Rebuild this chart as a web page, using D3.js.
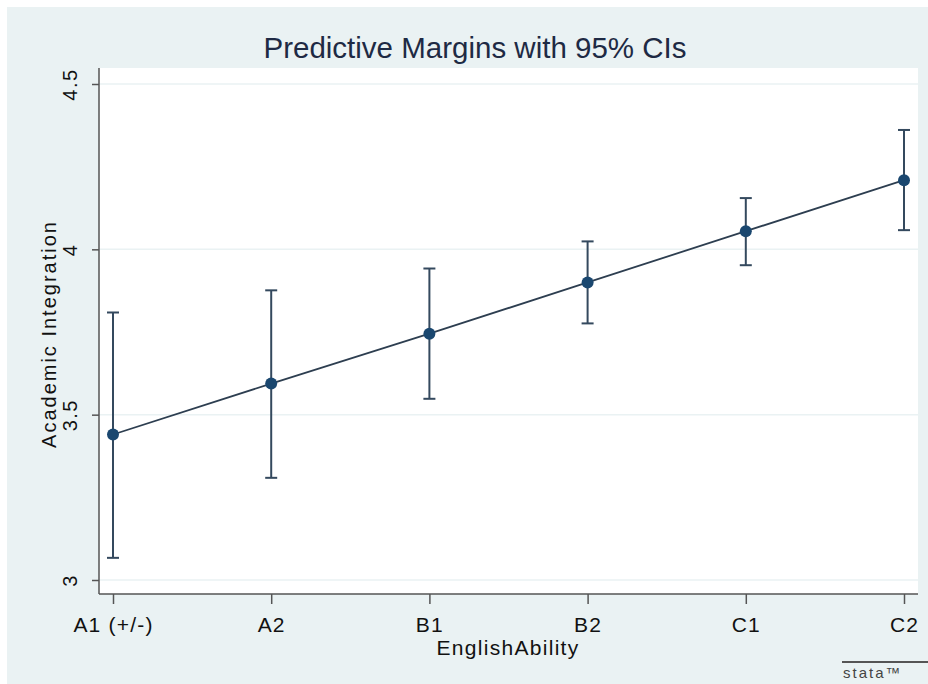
<!DOCTYPE html>
<html>
<head>
<meta charset="utf-8">
<script src="https://cdn.jsdelivr.net/npm/d3@7"></script>
<style>
  body { margin: 0; background: #fff; }
  text { font-family: "Liberation Sans", Arial, sans-serif; }
</style>
</head>
<body>
<svg id="chart" width="928" height="684"></svg>
<script>
// Data
const levels = ["A1 (+/-)", "A2", "B1", "B2", "C1", "C2"];
const margins = [3.44, 3.594, 3.745, 3.90, 4.055, 4.209];
const ciLow = [3.067, 3.309, 3.548, 3.776, 3.952, 4.058];
const ciHigh = [3.809, 3.876, 3.942, 4.024, 4.155, 4.361];
const yTicks = [3, 3.5, 4, 4.5];

const svg = d3.select("#chart");
const width = +svg.attr("width");
const height = +svg.attr("height");

// graph region (light blue-gray) and plot region (white)
svg.append("rect")
  .attr("x", 7).attr("y", 7)
  .attr("width", width - 7).attr("height", height - 7)
  .attr("fill", "#eaf2f3");

const plot = { left: 99, right: 918, top: 68, bottom: 594 };

svg.append("rect")
  .attr("x", plot.left).attr("y", plot.top)
  .attr("width", plot.right - plot.left).attr("height", plot.bottom - plot.top)
  .attr("fill", "#ffffff");

const x = d3.scalePoint().domain(levels).range([113, 904]);
const y = d3.scaleLinear().domain([3, 4.5]).range([580, 84]);

// horizontal grid lines
svg.append("g")
  .selectAll("line")
  .data(yTicks)
  .enter()
  .append("line")
  .attr("x1", plot.left).attr("x2", plot.right)
  .attr("y1", (d) => y(d)).attr("y2", (d) => y(d))
  .attr("stroke", "#eaf2f3")
  .attr("stroke-width", 1.5);

// y axis
const yAxis = svg.append("g")
  .attr("transform", `translate(${plot.left},0)`)
  .call(d3.axisLeft(y).tickValues(yTicks).tickSize(7).tickFormat(d3.format("")));
yAxis.select(".domain").attr("d", `M0,${plot.top}V${plot.bottom}`).attr("stroke", "#555").attr("stroke-width", 1.5);
yAxis.selectAll(".tick line").attr("stroke", "#555").attr("stroke-width", 1.5);
yAxis.selectAll(".tick text")
  .attr("x", null).attr("dy", null)
  .attr("transform", "translate(-22,0) rotate(-90)")
  .attr("text-anchor", "middle")
  .attr("fill", "#111")
  .style("font-size", "20px")
  .style("letter-spacing", "1.5px");

// x axis
const xAxis = svg.append("g")
  .attr("transform", `translate(0,${plot.bottom})`)
  .call(d3.axisBottom(x).tickSize(10));
xAxis.select(".domain").attr("d", `M${plot.left},0H${plot.right}`).attr("stroke", "#555").attr("stroke-width", 1.5);
xAxis.selectAll(".tick line").attr("stroke", "#555").attr("stroke-width", 1.5);
xAxis.selectAll(".tick text")
  .attr("y", 38).attr("dy", null)
  .attr("fill", "#111")
  .style("font-size", "21px")
  .style("letter-spacing", "1.2px");

// axis titles
svg.append("text")
  .attr("transform", `translate(56,${y(3.75) + 2}) rotate(-90)`)
  .attr("text-anchor", "middle")
  .attr("fill", "#111")
  .style("font-size", "20px")
  .style("letter-spacing", "2px")
  .text("Academic Integration");

svg.append("text")
  .attr("x", 508).attr("y", 655)
  .attr("text-anchor", "middle")
  .attr("fill", "#111")
  .style("font-size", "21px")
  .style("letter-spacing", "1.3px")
  .text("EnglishAbility");

// title
svg.append("text")
  .attr("x", 475).attr("y", 58)
  .attr("text-anchor", "middle")
  .attr("fill", "#1e2a44")
  .style("font-size", "29.5px")
  .text("Predictive Margins with 95% CIs");

const rows = levels.map((k, i) => ({ k, m: margins[i], lo: ciLow[i], hi: ciHigh[i] }));

// confidence intervals
const ci = svg.append("g").attr("stroke", "#34495e").attr("stroke-width", 2);
ci.selectAll(".bar").data(rows).enter().append("line")
  .attr("x1", (d) => x(d.k)).attr("x2", (d) => x(d.k))
  .attr("y1", (d) => y(d.lo)).attr("y2", (d) => y(d.hi));
ci.selectAll(".capHi").data(rows).enter().append("line")
  .attr("x1", (d) => x(d.k) - 6).attr("x2", (d) => x(d.k) + 6)
  .attr("y1", (d) => y(d.hi)).attr("y2", (d) => y(d.hi));
ci.selectAll(".capLo").data(rows).enter().append("line")
  .attr("x1", (d) => x(d.k) - 6).attr("x2", (d) => x(d.k) + 6)
  .attr("y1", (d) => y(d.lo)).attr("y2", (d) => y(d.lo));

// connecting line
svg.append("path")
  .datum(rows)
  .attr("fill", "none")
  .attr("stroke", "#2d3e50")
  .attr("stroke-width", 1.8)
  .attr("d", d3.line().x((d) => x(d.k)).y((d) => y(d.m)));

// markers
svg.append("g")
  .selectAll("circle")
  .data(rows)
  .enter()
  .append("circle")
  .attr("cx", (d) => x(d.k))
  .attr("cy", (d) => y(d.m))
  .attr("r", 6)
  .attr("fill", "#1a476f");

// stata logo
svg.append("line")
  .attr("x1", 842).attr("x2", 928)
  .attr("y1", 662).attr("y2", 662)
  .attr("stroke", "#555").attr("stroke-width", 2);
svg.append("text")
  .attr("x", 843).attr("y", 678)
  .attr("fill", "#444")
  .style("font-size", "15px")
  .style("letter-spacing", "2px")
  .text("stata™");
</script>
</body>
</html>
